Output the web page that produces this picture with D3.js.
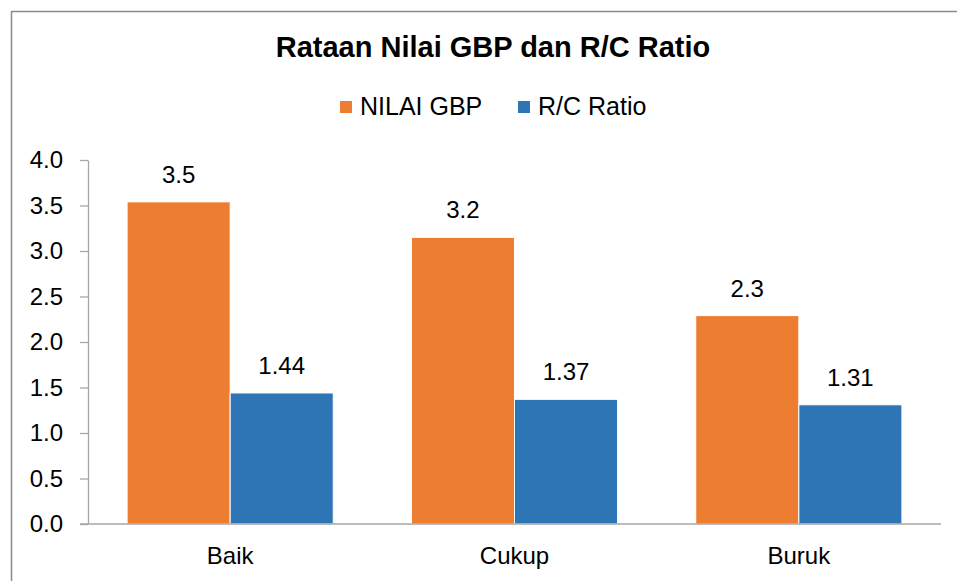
<!DOCTYPE html>
<html>
<head>
<meta charset="utf-8">
<script src="https://cdn.jsdelivr.net/npm/d3@7"></script>
<style>
  body { margin: 0; background: #fff; }
  text { font-family: Arial, "Liberation Sans", sans-serif; fill: #000; }
</style>
</head>
<body>
<svg id="chart" width="957" height="581"></svg>
<script>
// data
const categories = ['Baik', 'Cukup', 'Buruk'];
const seriesNames = ['NILAI GBP', 'R/C Ratio'];
const gbpValues = [3.54, 3.15, 2.29];
const gbpLabels = ['3.5', '3.2', '2.3'];
const rcValues = [1.44, 1.37, 1.31];
const rcLabels = ['1.44', '1.37', '1.31'];
const yTicks = [0, 0.5, 1, 1.5, 2, 2.5, 3, 3.5, 4];

const colors = ['#ed7d31', '#2e75b6'];

const svg = d3.select('#chart');

// outer frame (only top and left visible)
svg.append('path')
  .attr('d', 'M11.5,581 L11.5,11.5 L957,11.5')
  .attr('fill', 'none')
  .attr('stroke', '#8a8a8a')
  .attr('stroke-width', 1.5);

// title
svg.append('text')
  .attr('x', 493)
  .attr('y', 57)
  .attr('text-anchor', 'middle')
  .style('font-size', '29px')
  .style('font-weight', 'bold')
  .text('Rataan Nilai GBP dan R/C Ratio');

const margin = {left: 88, right: 16, top: 160, bottom: 57};
const width = 957 - margin.left - margin.right;
const height = 581 - margin.top - margin.bottom;

const g = svg.append('g').attr('transform', `translate(${margin.left},${margin.top})`);

const x0 = d3.scaleBand()
  .domain(categories)
  .range([0, width])
  .paddingInner(0.275)
  .paddingOuter(0.1375);

const x1 = d3.scaleBand()
  .domain(seriesNames)
  .range([0, x0.bandwidth()])
  .padding(0);

const y = d3.scaleLinear()
  .domain([0, 4])
  .range([height, 0]);

// y axis
const yAxis = d3.axisLeft(y)
  .tickValues(yTicks)
  .tickFormat(d3.format('.1f'))
  .tickSizeInner(8)
  .tickSizeOuter(0)
  .tickPadding(17);

const yG = g.append('g').attr('class', 'y axis').call(yAxis);
yG.select('.domain').attr('stroke', '#a6a6a6').attr('stroke-width', 1.3);
yG.selectAll('.tick line').attr('stroke', '#a6a6a6').attr('stroke-width', 1.3);
yG.selectAll('.tick text').style('font-size', '24px').attr('fill', '#000');

// bars
const rows = categories.map((c, i) => ({
  cat: c,
  vals: [
    {s: seriesNames[0], v: gbpValues[i], label: gbpLabels[i], color: colors[0]},
    {s: seriesNames[1], v: rcValues[i], label: rcLabels[i], color: colors[1]}
  ]
}));

const groups = g.selectAll('.group')
  .data(rows)
  .enter()
  .append('g')
  .attr('class', 'group')
  .attr('transform', d => `translate(${x0(d.cat)},0)`);

groups.selectAll('rect')
  .data(d => d.vals)
  .enter()
  .append('rect')
  .attr('x', d => x1(d.s))
  .attr('y', d => y(d.v))
  .attr('width', x1.bandwidth())
  .attr('height', d => height - y(d.v))
  .attr('fill', d => d.color)
  .attr('stroke', '#fff')
  .attr('stroke-width', 1);

groups.selectAll('.vlabel')
  .data(d => d.vals)
  .enter()
  .append('text')
  .attr('class', 'vlabel')
  .attr('x', d => x1(d.s) + x1.bandwidth() / 2)
  .attr('y', d => y(d.v) - 19)
  .attr('text-anchor', 'middle')
  .style('font-size', '24px')
  .text(d => d.label);

// x axis
const xAxis = d3.axisBottom(x0)
  .tickSize(0)
  .tickPadding(23);

const xG = g.append('g')
  .attr('class', 'x axis')
  .attr('transform', `translate(0,${height})`)
  .call(xAxis);
xG.select('.domain').remove();
xG.selectAll('.tick text').style('font-size', '24px').attr('fill', '#000');
g.append('line')
  .attr('x1', -8).attr('x2', width)
  .attr('y1', height).attr('y2', height)
  .attr('stroke', '#a6a6a6')
  .attr('stroke-width', 1.3);

// legend
const legendItems = [
  {name: seriesNames[0], color: colors[0], x: 340},
  {name: seriesNames[1], color: colors[1], x: 518}
];
const legend = svg.selectAll('.legend')
  .data(legendItems)
  .enter()
  .append('g')
  .attr('class', 'legend')
  .attr('transform', d => `translate(${d.x},101)`);
legend.append('rect')
  .attr('width', 12).attr('height', 12)
  .attr('fill', d => d.color);
legend.append('text')
  .attr('x', 20).attr('y', 14)
  .style('font-size', '25px')
  .text(d => d.name);
</script>
</body>
</html>
